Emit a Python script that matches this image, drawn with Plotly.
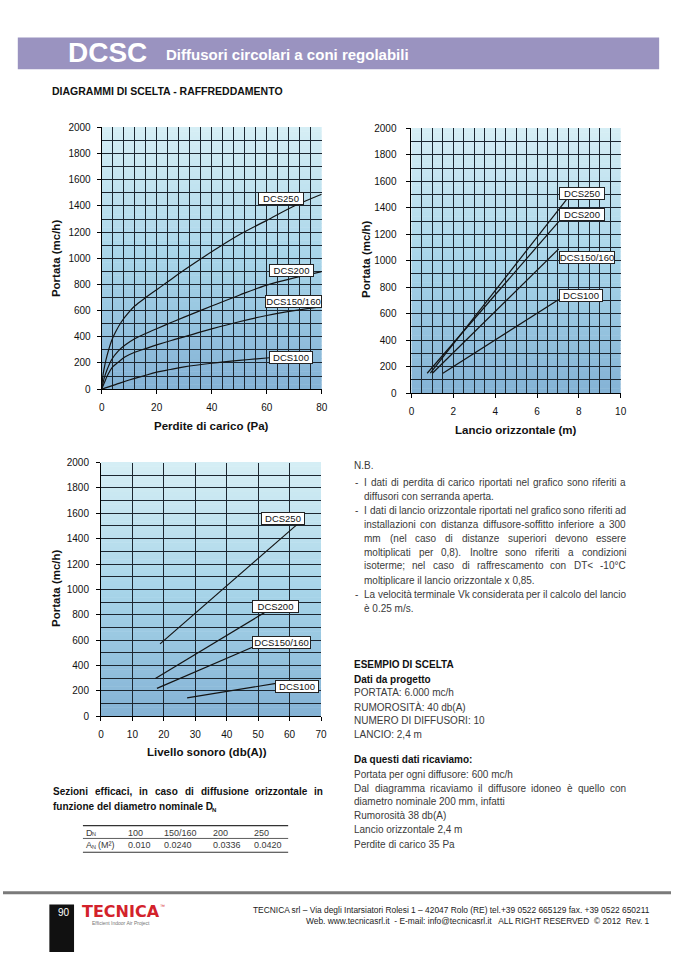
import plotly.graph_objects as go

# ---------------- DATA ----------------
SERIES = ["DCS250", "DCS200", "DCS150/160", "DCS100"]

# Chart 1: Perdite di carico (Pa) vs Portata (mc/h)
PD_250_X = [0, 0.5, 1.2, 2, 3.6, 5, 7.2, 10, 12, 16, 20, 24, 30, 40, 50, 60, 70, 80]
PD_250_Y = [0, 110, 190, 260, 370, 435, 515, 590, 635, 700, 760, 820, 910, 1050, 1180, 1290, 1400, 1490]
PD_200_X = [0, 1, 2, 3.6, 6, 8.4, 12, 16, 20, 25, 30, 40, 50, 60, 70, 80]
PD_200_Y = [0, 90, 150, 225, 290, 335, 385, 425, 462, 507, 550, 635, 718, 795, 850, 898]
PD_150_X = [0, 1, 2, 4, 6, 8.4, 12, 16, 20, 25, 30, 40, 50, 60, 70, 80]
PD_150_Y = [0, 50, 100, 170, 205, 245, 282, 310, 338, 370, 400, 460, 515, 563, 600, 630]
PD_100_X = [0, 5, 10, 15, 20, 25, 30, 40, 50, 60, 62]
PD_100_Y = [0, 35, 70, 100, 130, 150, 170, 198, 220, 238, 242]

# Chart 2: Lancio orizzontale (m) vs Portata (mc/h)
LA_250_X = [0.9, 7.4]
LA_250_Y = [150, 1460]
LA_200_X = [0.75, 7.04]
LA_200_Y = [150, 1296]
LA_150_X = [1.0, 7.04]
LA_150_Y = [150, 1090]
LA_100_X = [1.5, 7.04]
LA_100_Y = [150, 707]

# Chart 3: Livello sonoro (db(A)) vs Portata (mc/h)
LS_250_X = [18.8, 62.8]
LS_250_Y = [571, 1520]
LS_200_X = [17.3, 52.0]
LS_200_Y = [298, 817]
LS_150_X = [17.8, 48.9]
LS_150_Y = [220, 552]
LS_100_X = [27.4, 55.7]
LS_100_Y = [145, 259]

# Table
TAB_DN = ["100", "150/160", "200", "250"]
TAB_AN = ["0.010", "0.0240", "0.0336", "0.0420"]

# ---------------- PAGE HELPERS ----------------
W, H = 677, 958
def px(x): return x / W
def py(y): return 1 - y / H

FONT = "Liberation Sans, Arial, sans-serif"
annotations = []
shapes = []

def txt(x, y, s, size=9, bold=False, color="#3a3a3a", xanchor="left", family=FONT, angle=0):
    annotations.append(dict(x=px(x), y=py(y), xref="paper", yref="paper", text=s,
                            showarrow=False, xanchor=xanchor, yanchor="middle", textangle=angle,
                            borderpad=0,
                            font=dict(family=family, size=size, color=color,
                                      weight="bold" if bold else "normal")))

# Arial / Liberation Sans advance widths (1/1000 em) for justification
REG = dict(zip("abcdefghijklmnopqrstuvwxyz",
               [556, 556, 500, 556, 556, 278, 556, 556, 222, 222, 500, 222, 833, 556, 556, 556, 556,
                333, 500, 278, 556, 500, 722, 500, 500, 500]))
REG.update(dict(zip("ABCDEFGHIJKLMNOPQRSTUVWXYZ",
                    [667, 667, 722, 722, 667, 611, 778, 722, 278, 500, 667, 556, 833, 722, 778, 667,
                     778, 722, 667, 611, 722, 667, 944, 667, 667, 611])))
REG.update({" ": 278, "-": 333, "(": 333, ")": 333, ",": 278, ".": 278, ";": 278, ":": 278,
            "<": 584, "°": 400, "/": 278, "è": 556, "à": 556})
for d in "0123456789":
    REG[d] = 556
BOLD = dict(zip("abcdefghijklmnopqrstuvwxyz",
                [556, 611, 556, 611, 556, 333, 611, 611, 278, 278, 556, 278, 889, 611, 611, 611, 611,
                 389, 556, 333, 611, 556, 778, 556, 556, 500]))
BOLD.update({" ": 278, ",": 278, "S": 667})

def justify(s, x0, x1, y, size, bold=False, color="#3a3a3a"):
    table = BOLD if bold else REG
    words = s.split()
    widths = [sum(table.get(c, 556) for c in w) / 1000 * size for w in words]
    gap = (x1 - x0 - sum(widths)) / (len(words) - 1)
    gap = max(gap, 0.2 * size)
    x = x0
    for w, wd in zip(words, widths):
        txt(x, y, w, size, bold, color)
        x += wd + gap

fig = go.Figure()

# ---------------- CHARTS ----------------
LINE = dict(color="#141414", width=1.2)

def add_series(xs, ys, ax, shape="linear"):
    fig.add_trace(go.Scatter(x=xs, y=ys, mode="lines", xaxis=ax[0], yaxis=ax[1],
                             line=dict(LINE, shape=shape), showlegend=False, hoverinfo="skip"))

add_series(PD_250_X, PD_250_Y, ("x", "y"), "spline")
add_series(PD_200_X, PD_200_Y, ("x", "y"), "spline")
add_series(PD_150_X, PD_150_Y, ("x", "y"), "spline")
add_series(PD_100_X, PD_100_Y, ("x", "y"), "spline")
add_series(LA_250_X, LA_250_Y, ("x2", "y2"))
add_series(LA_200_X, LA_200_Y, ("x2", "y2"))
add_series(LA_150_X, LA_150_Y, ("x2", "y2"))
add_series(LA_100_X, LA_100_Y, ("x2", "y2"))
add_series(LS_250_X, LS_250_Y, ("x3", "y3"))
add_series(LS_200_X, LS_200_Y, ("x3", "y3"))
add_series(LS_150_X, LS_150_Y, ("x3", "y3"))
add_series(LS_100_X, LS_100_Y, ("x3", "y3"))

GRID = "#1c2630"
def axis(domain, rng, dtick, minor=None, standoff=3):
    d = dict(domain=domain, range=rng, dtick=dtick, tick0=0, showline=True, linecolor="black",
             linewidth=1, ticks="outside", ticklen=4, tickcolor="black",
             tickfont=dict(family=FONT, size=10, color="#111"), showgrid=True,
             gridcolor=GRID, gridwidth=1.2, zeroline=False, fixedrange=True,
             ticklabelstandoff=standoff)
    if minor:
        d["minor"] = dict(dtick=minor, tick0=0, showgrid=True, gridcolor=GRID, gridwidth=1.2)
    return d

charts = [
    ("xaxis", "yaxis", (100, 323), (123, 388), [0, 80], 20, 4, 4),
    ("xaxis2", "yaxis2", (414, 626), (124, 392), [0, 10], 2, 0.5, 8),
    ("xaxis3", "yaxis3", (99.3, 322.3), (462.3, 719.3), [0, 70], 10, None, 5),
]
layout_axes = {}
for i, (xk, yk, xr, yr, rng, dt, mn, so) in enumerate(charts):
    sfx = "" if i == 0 else str(i + 1)
    layout_axes[xk] = axis([px(xr[0]), px(xr[1])], rng, dt, mn, 5)
    ya = axis([py(yr[1]), py(yr[0])], [0, 2000], 200, 100, so)
    ya["anchor"] = "x" + sfx
    layout_axes[xk]["anchor"] = "y" + sfx
    layout_axes[yk] = ya
    # gradient background strips
    N = 60
    stops = [(0.0, (132, 178, 213)), (0.5, (168, 213, 233)), (1.0, (214, 238, 245))]
    for k in range(N):
        t = (k + 0.5) / N
        for j in range(len(stops) - 1):
            if stops[j][0] <= t <= stops[j + 1][0]:
                f = (t - stops[j][0]) / (stops[j + 1][0] - stops[j][0])
                c = tuple(round(stops[j][1][m] + f * (stops[j + 1][1][m] - stops[j][1][m])) for m in range(3))
                break
        shapes.append(dict(type="rect", xref="x" + sfx + " domain", yref="y" + sfx + " domain",
                           x0=0, x1=1, y0=k / N, y1=(k + 1) / N + 0.002, layer="below",
                           line=dict(width=0), fillcolor="rgb(%d,%d,%d)" % c))

# series labels (boxed)
def label(xref, yref, x, y, s, w):
    annotations.append(dict(x=x, y=y, xref=xref, yref=yref, text=s, showarrow=False,
                            xanchor="left", yanchor="middle", bgcolor="white",
                            bordercolor="#222", borderwidth=1, borderpad=0, width=w, height=11,
                            font=dict(family=FONT, size=9.5, color="#111")))

label("x", "y", 56.7, 1460, SERIES[0], 44)
label("x", "y", 61.0, 906, SERIES[1], 43)
label("x", "y", 59.2, 672, SERIES[2], 55)
label("x", "y", 61.0, 238, SERIES[3], 42)
label("x2", "y2", 7.03, 1511, SERIES[0], 44)
label("x2", "y2", 7.03, 1351, SERIES[1], 44)
label("x2", "y2", 7.03, 1022, SERIES[2], 54)
label("x2", "y2", 7.03, 739, SERIES[3], 42)
label("x3", "y3", 51.0, 1561, SERIES[0], 42)
label("x3", "y3", 48.0, 865, SERIES[1], 45)
label("x3", "y3", 48.0, 580, SERIES[2], 57)
label("x3", "y3", 55.4, 234, SERIES[3], 42)

# axis titles
TS = 11.5
txt(211, 425, "Perdite di carico (Pa)", TS, True, "#111", "center")
txt(53, 256, "Portata (mc/h)", TS, True, "#111", "center", angle=-90)
txt(520, 429, "Lancio orizzontale (m)", TS, True, "#111", "center")
txt(368, 257, "Portata (mc/h)", TS, True, "#111", "center", angle=-90)
txt(207, 755, "Livello sonoro (db(A))", TS, True, "#111", "center")
txt(53, 590, "Portata (mc/h)", TS, True, "#111", "center", angle=-90)

# ---------------- HEADER ----------------
shapes.append(dict(type="rect", xref="paper", yref="paper", x0=px(15), x1=px(665),
                   y0=py(64), y1=py(32), fillcolor="#9a93c0", line=dict(width=0), layer="below"))
txt(65, 47, "DCSC", 28, True, "white")
txt(164, 49, "Diffusori circolari a coni regolabili", 15, True, "white")
txt(49, 86, "DIAGRAMMI DI SCELTA - RAFFREDDAMENTO", 10.5, True, "#111")

# ---------------- N.B. ----------------
BS = 10
txt(355, 465, "N.B.", BS)
for y in (483, 511, 596):
    txt(356, y, "-", BS)
justify("I dati di perdita di carico riportati nel grafico sono riferiti a", 365, 630, 483, BS)
txt(365, 497, "diffusori con serranda aperta.", BS)
justify("I dati di lancio orizzontale riportati nel grafico sono riferiti ad", 365, 630, 511, BS)
justify("installazioni con distanza diffusore-soffitto inferiore a 300", 365, 630, 525, BS)
justify("mm (nel caso di distanze superiori devono essere", 365, 630, 539, BS)
justify("moltiplicati per 0,8). Inoltre sono riferiti a condizioni", 365, 630, 553, BS)
justify("isoterme; nel caso di raffrescamento con DT< -10°C", 365, 630, 567, BS)
txt(365, 582, "moltiplicare il lancio orizzontale x 0,85.", BS)
justify("La velocità terminale Vk considerata per il calcolo del lancio", 365, 630, 596, BS)
txt(365, 610, "è 0.25 m/s.", BS)

ex = [
    (667, "ESEMPIO DI SCELTA", True),
    (682, "Dati da progetto", True),
    (695, "PORTATA: 6.000 mc/h", False),
    (710, "RUMOROSITÀ: 40 db(A)", False),
    (724, "NUMERO DI DIFFUSORI: 10", False),
    (738, "LANCIO: 2,4 m", False),
    (763, "Da questi dati ricaviamo:", True),
    (778, "Portata per ogni diffusore: 600 mc/h", False),
    (806, "diametro nominale 200 mm, infatti", False),
    (820, "Rumorosità 38 db(A)", False),
    (834, "Lancio orizzontale 2,4 m", False),
    (849, "Perdite di carico 35 Pa", False),
]
for y, s, b in ex:
    txt(355, y, s, BS, b, "#111" if b else "#3a3a3a")
justify("Dal diagramma ricaviamo il diffusore idoneo è quello con", 355, 630, 792, BS)

# ---------------- SEZIONI EFFICACI ----------------
justify("Sezioni efficaci, in caso di diffusione orizzontale in", 50, 323, 795, 10, True, "#111")
txt(50, 811, "funzione del diametro nominale D", 10, True, "#111")
txt(210.5, 814, "N", 6, True, "#111")
for yy, wdt in [(830, 1.2), (843, 0.8), (857, 1.2)]:
    shapes.append(dict(type="line", xref="paper", yref="paper", x0=px(81), x1=px(289),
                       y0=py(yy), y1=py(yy), line=dict(color="#333", width=wdt)))
cols = [126, 162, 212, 253]
txt(83, 837, "D", 9)
txt(89.5, 839, "N", 5.5)
txt(83, 850, "A", 9)
txt(89, 852, "N", 5.5)
txt(95, 850, "(M²)", 9)
for cx, a, b in zip(cols, TAB_DN, TAB_AN):
    txt(cx, 837, a, 9)
    txt(cx, 850, b, 9)

# ---------------- FOOTER ----------------
shapes.append(dict(type="line", xref="paper", yref="paper", x0=0, x1=1, y0=py(898), y1=py(898),
                   line=dict(color="#7a7a7a", width=3)))
shapes.append(dict(type="rect", xref="paper", yref="paper", x0=px(47), x1=px(72), y0=0, y1=py(910),
                   fillcolor="#111", line=dict(width=0)))
txt(55, 918, "90", 10, False, "white")
txt(79, 917, "TECNICA", 16, True, "#d3222b", family="DejaVu Sans, sans-serif")
txt(158, 911, "™", 5, False, "#d3222b")
txt(120, 929, "Efficient Indoor Air Project", 5, False, "#777", "center")
txt(657, 915, "TECNICA srl – Via degli Intarsiatori Rolesi 1 – 42047 Rolo (RE) tel.+39 0522 665129 fax. +39 0522 650211",
    8.4, False, "#222", "right")
txt(657, 927, "Web. www.tecnicasrl.it  - E-mail: info@tecnicasrl.it   ALL RIGHT RESERVED  © 2012  Rev. 1",
    8.4, False, "#222", "right")

fig.update_layout(width=W, height=H, margin=dict(l=0, r=0, t=0, b=0), autosize=False,
                  paper_bgcolor="white", plot_bgcolor="rgba(0,0,0,0)", showlegend=False,
                  annotations=annotations, shapes=shapes, **layout_axes)

PAGE_FIX = """
var de = document.documentElement, b = document.body;
de.style.margin = '0'; de.style.padding = '0'; de.style.overflow = 'hidden';
b.style.margin = '0'; b.style.padding = '0'; b.style.overflow = 'hidden';
var g = document.querySelector('.plotly-graph-div');
if (g) { g.style.position = 'fixed'; g.style.left = '0px'; g.style.top = '0px'; }
"""
fig.write_html("out.html", config={"displayModeBar": False}, post_script=PAGE_FIX)
